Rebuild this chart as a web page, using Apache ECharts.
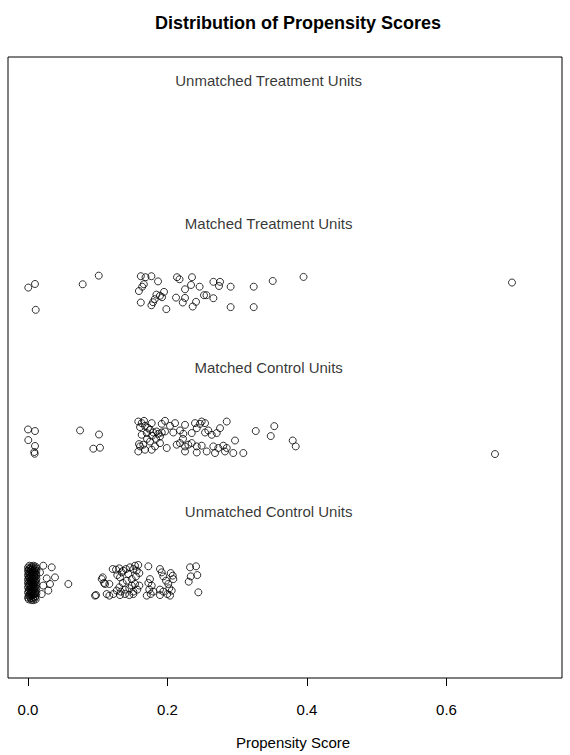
<!DOCTYPE html>
<html>
<head>
<meta charset="utf-8">
<script src="https://cdn.jsdelivr.net/npm/echarts@6/dist/echarts.min.js"></script>
<style>
html,body{margin:0;padding:0;background:#fff;}
#chart{width:570px;height:755px;}
</style>
</head>
<body>
<div id="chart"></div>
<script>
// ---- data ----
const chartTitle = 'Distribution of Propensity Scores';
const axisTitle = 'Propensity Score';
const xTicks = [0, 0.2, 0.4, 0.6];
const groupLabels = ['Unmatched Treatment Units', 'Matched Treatment Units', 'Matched Control Units', 'Unmatched Control Units'];
const groupLabelY = [4, 3, 2, 1];
const groupLabelX = 0.345;

// [propensity score, jittered row position]
const unmatchedTreated = [];

const matchedTreated = [
  [0.0004,2.556],[0.0100,2.581],[0.0110,2.401],[0.0784,2.579],[0.1014,2.639],
  [0.1617,2.635],[0.1685,2.628],[0.1769,2.635],[0.1864,2.599],[0.1660,2.579],
  [0.1637,2.562],[0.1590,2.532],[0.1617,2.452],[0.1769,2.433],[0.1792,2.454],
  [0.1817,2.475],[0.1841,2.507],[0.1892,2.499],[0.1950,2.526],[0.1921,2.489],
  [0.1983,2.406],[0.2136,2.628],[0.2172,2.614],[0.2351,2.628],[0.2337,2.574],
  [0.2251,2.544],[0.2122,2.486],[0.2251,2.484],[0.2219,2.452],[0.2361,2.424],
  [0.2409,2.457],[0.2460,2.562],[0.2523,2.503],[0.2559,2.503],[0.2658,2.482],
  [0.2658,2.596],[0.2753,2.596],[0.2738,2.567],[0.2905,2.562],[0.2905,2.420],
  [0.3236,2.562],[0.3236,2.420],[0.3508,2.602],[0.3950,2.630],[0.6939,2.591]
];

const matchedControl = [
  [0.0000,1.569],[0.0100,1.558],[0.0004,1.495],[0.0100,1.454],[0.0090,1.412],
  [0.0095,1.400],[0.0746,1.562],[0.1018,1.534],[0.0936,1.435],[0.1032,1.442],
  [0.1581,1.624],[0.1630,1.613],[0.1663,1.629],[0.1773,1.613],[0.1917,1.608],
  [0.1964,1.629],[0.2108,1.613],[0.2251,1.601],[0.2394,1.613],[0.2466,1.608],
  [0.2538,1.613],[0.2490,1.624],[0.2849,1.624],
  [0.1606,1.585],[0.1677,1.594],[0.1749,1.567],[0.1796,1.548],[0.1845,1.555],
  [0.1868,1.539],[0.1917,1.548],[0.1964,1.555],[0.2083,1.548],[0.2179,1.562],
  [0.2227,1.539],[0.2347,1.544],[0.2538,1.548],[0.2585,1.562],[0.2634,1.532],
  [0.2705,1.544],[0.2753,1.578],[0.2419,1.578],[0.1630,1.532],[0.1702,1.544],
  [0.1892,1.520],
  [0.1581,1.416],[0.1606,1.451],[0.1653,1.463],[0.1773,1.428],[0.1821,1.451],
  [0.1749,1.485],[0.1892,1.474],[0.1989,1.440],[0.2132,1.463],[0.2179,1.474],
  [0.2251,1.451],[0.2298,1.463],[0.2347,1.474],[0.2419,1.451],[0.2490,1.456],
  [0.2562,1.416],[0.2657,1.451],[0.2728,1.440],[0.2800,1.456],[0.2849,1.440],
  [0.2824,1.416],[0.2419,1.409],[0.2251,1.416],[0.2968,1.492],[0.3087,1.405],
  [0.2943,1.405],[0.2681,1.405],
  [0.1720,1.580],[0.1778,1.525],[0.1706,1.504],[0.1835,1.504],[0.1677,1.428],
  [0.1591,1.467],[0.2036,1.594],[0.2222,1.504],
  [0.3265,1.558],[0.3531,1.592],[0.3480,1.523],[0.3795,1.492],[0.3838,1.451],
  [0.6695,1.398]
];

const unmatchedControl = [
  // near-zero mass
  [0.002,0.621],[0.008,0.621],[0.005,0.615],[0.011,0.615],[0.000,0.609],[0.007,0.609],
  [0.003,0.603],[0.010,0.603],[0.012,0.603],[0.001,0.597],[0.006,0.597],[0.004,0.591],
  [0.009,0.591],[0.000,0.585],[0.007,0.585],[0.012,0.585],[0.002,0.579],[0.010,0.579],
  [0.005,0.573],[0.008,0.573],[0.001,0.567],[0.011,0.567],[0.003,0.561],[0.006,0.561],
  [0.009,0.561],[0.000,0.555],[0.012,0.555],[0.004,0.549],[0.008,0.549],[0.002,0.543],
  [0.010,0.543],[0.006,0.537],[0.001,0.537],[0.003,0.531],[0.009,0.531],[0.012,0.531],
  [0.000,0.525],[0.007,0.525],[0.005,0.519],[0.011,0.519],[0.002,0.513],[0.008,0.513],
  [0.004,0.507],[0.010,0.507],[0.000,0.501],[0.006,0.501],[0.012,0.501],[0.003,0.495],
  [0.009,0.495],[0.001,0.489],[0.007,0.489],[0.005,0.483],[0.011,0.483],[0.002,0.477],
  [0.008,0.477],[0.000,0.471],[0.010,0.471],[0.004,0.471],[0.006,0.465],[0.012,0.465],
  [0.003,0.459],[0.009,0.459],[0.001,0.453],[0.007,0.453],[0.005,0.447],[0.011,0.447],
  [0.002,0.441],[0.008,0.441],[0.000,0.435],[0.010,0.435],[0.004,0.435],[0.006,0.429],
  [0.012,0.429],[0.003,0.423],[0.009,0.423],[0.001,0.417],[0.007,0.417],[0.005,0.411],
  [0.011,0.411],[0.002,0.405],[0.008,0.405],[0.000,0.399],[0.010,0.399],[0.004,0.393],
  [0.007,0.393],[0.001,0.387],[0.011,0.387],[0.005,0.382],[0.008,0.382],
  // small scores
  [0.0340,0.610],[0.0268,0.533],[0.0387,0.540],[0.0315,0.494],[0.0291,0.448],
  [0.0196,0.424],[0.0219,0.483],[0.0578,0.494],[0.0172,0.575],[0.0219,0.621],
  // 0.1 - 0.25 cluster
  [0.1071,0.540],[0.1090,0.501],[0.1166,0.494],[0.0975,0.417],[0.1166,0.413],
  [0.1214,0.598],[0.1262,0.594],[0.1309,0.603],[0.1343,0.575],[0.1280,0.556],
  [0.1319,0.540],[0.1366,0.587],[0.1405,0.598],[0.1438,0.563],[0.1462,0.610],
  [0.1510,0.598],[0.1534,0.621],[0.1581,0.626],[0.1558,0.587],[0.1596,0.570],
  [0.1548,0.547],[0.1487,0.528],[0.1415,0.517],[0.1358,0.501],[0.1309,0.471],
  [0.1272,0.448],[0.1329,0.441],[0.1391,0.455],[0.1452,0.464],[0.1510,0.441],
  [0.1567,0.455],[0.1596,0.483],[0.1534,0.494],[0.1487,0.483],[0.1391,0.424],
  [0.1452,0.417],[0.1510,0.424],[0.1319,0.417],[0.1223,0.424],[0.1725,0.617],
  [0.1749,0.528],[0.1725,0.501],[0.1773,0.483],[0.1739,0.455],[0.1759,0.424],
  [0.1796,0.441],[0.1702,0.413],[0.1892,0.598],[0.1917,0.575],[0.1940,0.547],
  [0.1978,0.517],[0.2011,0.494],[0.2046,0.570],[0.2075,0.552],[0.2026,0.464],
  [0.2060,0.448],[0.1997,0.424],[0.1940,0.441],[0.1892,0.455],[0.1892,0.417],
  [0.2083,0.528],[0.2036,0.413],[0.2323,0.610],[0.2409,0.617],[0.2427,0.556],
  [0.2333,0.547],[0.2304,0.510],[0.2442,0.436],
  [0.1057,0.528],[0.1104,0.494],[0.0961,0.413],[0.1128,0.424]
];

// ---- chart ----
const FONT = 'Liberation Sans, Arial, Helvetica, sans-serif';
const chart = echarts.init(document.getElementById('chart'), null, {renderer: 'svg'});

function pointSeries(name, data) {
  return {
    name: name,
    type: 'scatter',
    data: data,
    symbol: 'circle',
    symbolSize: 7,
    itemStyle: {color: 'rgba(0,0,0,0)', borderColor: '#000', borderWidth: 1},
    emphasis: {disabled: true},
    silent: true
  };
}

const labelData = groupLabels.map((t, i) => [groupLabelX, groupLabelY[i], t]);

chart.setOption({
  animation: false,
  backgroundColor: '#fff',
  title: {
    text: chartTitle,
    left: 293,
    textAlign: 'center',
    top: 9,
    textStyle: {fontFamily: FONT, fontSize: 18, fontWeight: 'bold', color: '#000'}
  },
  grid: {
    left: 8, right: 8, top: 57, bottom: 74,
    show: true, borderColor: '#000', borderWidth: 1, backgroundColor: 'rgba(0,0,0,0)'
  },
  xAxis: {
    type: 'value',
    min: -0.0287,
    max: 0.7656,
    splitLine: {show: false},
    axisLine: {show: false, onZero: false},
    axisTick: {show: true, customValues: xTicks, length: 8, lineStyle: {color: '#000', width: 1}},
    axisLabel: {
      show: true, customValues: xTicks, margin: 24,
      fontFamily: FONT, fontSize: 15, color: '#000',
      formatter: v => v.toFixed(1)
    },
    name: axisTitle,
    nameLocation: 'middle',
    nameGap: 57,
    nameTextStyle: {fontFamily: FONT, fontSize: 15, color: '#000', padding: [0, 0, 0, 16]}
  },
  yAxis: {
    type: 'value',
    min: -0.16,
    max: 4.16,
    show: false,
    splitLine: {show: false}
  },
  series: [
    pointSeries('Unmatched Treatment Units', unmatchedTreated),
    pointSeries('Matched Treatment Units', matchedTreated),
    pointSeries('Matched Control Units', matchedControl),
    pointSeries('Unmatched Control Units', unmatchedControl),
    {
      type: 'scatter',
      data: labelData,
      symbol: 'circle',
      symbolSize: 1,
      itemStyle: {color: 'rgba(0,0,0,0)'},
      silent: true,
      label: {
        show: true,
        position: 'inside',
        formatter: p => p.value[2],
        fontFamily: FONT,
        fontSize: 15,
        color: '#000',
        textBorderWidth: 0,
        textBorderColor: 'transparent'
      }
    }
  ]
});
</script>
</body>
</html>
